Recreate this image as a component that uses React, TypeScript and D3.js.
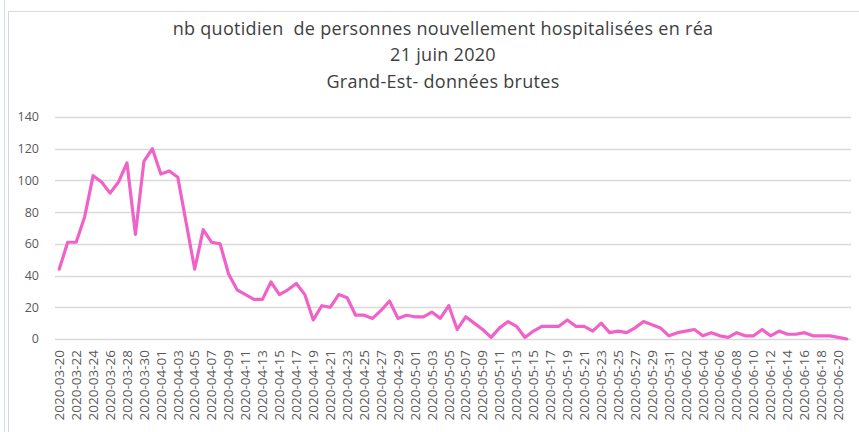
import React from "react";
import * as d3 from "d3";

const titleLines = [
  "nb quotidien  de personnes nouvellement hospitalisées en réa",
  "21 juin 2020",
  "Grand-Est- données brutes",
];

const dates = [
  "2020-03-20","2020-03-21","2020-03-22","2020-03-23","2020-03-24","2020-03-25","2020-03-26","2020-03-27","2020-03-28","2020-03-29","2020-03-30","2020-03-31",
  "2020-04-01","2020-04-02","2020-04-03","2020-04-04","2020-04-05","2020-04-06","2020-04-07","2020-04-08","2020-04-09","2020-04-10",
  "2020-04-11","2020-04-12","2020-04-13","2020-04-14","2020-04-15","2020-04-16","2020-04-17","2020-04-18","2020-04-19","2020-04-20",
  "2020-04-21","2020-04-22","2020-04-23","2020-04-24","2020-04-25","2020-04-26","2020-04-27","2020-04-28","2020-04-29","2020-04-30",
  "2020-05-01","2020-05-02","2020-05-03","2020-05-04","2020-05-05","2020-05-06","2020-05-07","2020-05-08","2020-05-09","2020-05-10",
  "2020-05-11","2020-05-12","2020-05-13","2020-05-14","2020-05-15","2020-05-16","2020-05-17","2020-05-18","2020-05-19","2020-05-20",
  "2020-05-21","2020-05-22","2020-05-23","2020-05-24","2020-05-25","2020-05-26","2020-05-27","2020-05-28","2020-05-29","2020-05-30","2020-05-31",
  "2020-06-01","2020-06-02","2020-06-03","2020-06-04","2020-06-05","2020-06-06","2020-06-07","2020-06-08","2020-06-09","2020-06-10",
  "2020-06-11","2020-06-12","2020-06-13","2020-06-14","2020-06-15","2020-06-16","2020-06-17","2020-06-18","2020-06-19","2020-06-20","2020-06-21",
];

const values = [
  44, 61, 61, 77, 103, 99, 92, 99, 111, 66, 112, 120,
  104, 106, 102, 73, 44, 69, 61, 60, 41, 31,
  28, 25, 25, 36, 28, 31, 35, 28, 12, 21,
  20, 28, 26, 15, 15, 13, 18, 24, 13, 15,
  14, 14, 17, 13, 21, 6, 14, 10, 6, 1,
  7, 11, 8, 1, 5, 8, 8, 8, 12, 8,
  8, 5, 10, 4, 5, 4, 7, 11, 9, 7, 2,
  4, 5, 6, 2, 4, 2, 1, 4, 2, 2,
  6, 2, 5, 3, 3, 4, 2, 2, 2, 1, 0,
];

const yTicks = [0, 20, 40, 60, 80, 100, 120, 140];

const W = 859;
const H = 432;
const plot = { left: 55, right: 851, top: 117, bottom: 339 };
const FONT = "'Open Sans', 'Noto Sans', sans-serif";

export default function App() {
  const x = d3
    .scaleBand<string>()
    .domain(dates)
    .range([plot.left, plot.right])
    .paddingInner(0)
    .paddingOuter(0);
  const cx = (d: string) => (x(d) as number) + x.bandwidth() / 2;
  const y = d3.scaleLinear().domain([0, 140]).range([plot.bottom, plot.top]);

  const line = d3
    .line<number>()
    .x((_, i) => cx(dates[i]))
    .y((v) => y(v));

  return (
    <div style={{ position: "fixed", left: 0, top: 0, width: W, height: H, background: "#fff" }}>
      <svg width={W} height={H} style={{ display: "block" }}>
        <rect x={0} y={0} width={W} height={H} fill="#fff" />
        <line x1={4.5} x2={4.5} y1={0} y2={H} stroke="#cfdcec" strokeWidth={1} />
        <rect x={8.5} y={11.5} width={W + 20} height={H + 20} fill="none" stroke="#d9d9d9" strokeWidth={1} />

        {titleLines.map((t, i) => (
          <text
            key={i}
            x={443}
            y={34.5 + i * 26.5}
            textAnchor="middle"
            fontFamily={FONT}
            fontSize={18}
            letterSpacing={0.3}
            fill="#404040"
            style={{ whiteSpace: "pre" }}
          >
            {t}
          </text>
        ))}

        {yTicks.map((t) => (
          <g key={t}>
            <line
              x1={plot.left}
              x2={plot.right}
              y1={Math.round(y(t)) + 0.5}
              y2={Math.round(y(t)) + 0.5}
              stroke="#d9d9d9"
              strokeWidth={1.3}
            />
            <text
              x={39}
              y={y(t)}
              dy="0.35em"
              textAnchor="end"
              fontFamily={FONT}
              fontSize={12.5}
              fill="#595959"
            >
              {t}
            </text>
          </g>
        ))}

        {dates.map((d, i) =>
          i % 2 === 0 ? (
            <text
              key={d}
              transform={`translate(${cx(d)},350) rotate(-90)`}
              dy="0.35em"
              textAnchor="end"
              fontFamily={FONT}
              fontSize={13.5}
              fill="#595959"
            >
              {d}
            </text>
          ) : null
        )}

        <path
          d={line(values) || ""}
          fill="none"
          stroke="#f062c8"
          strokeWidth={3.2}
          strokeLinejoin="round"
          strokeLinecap="round"
        />
      </svg>
    </div>
  );
}
